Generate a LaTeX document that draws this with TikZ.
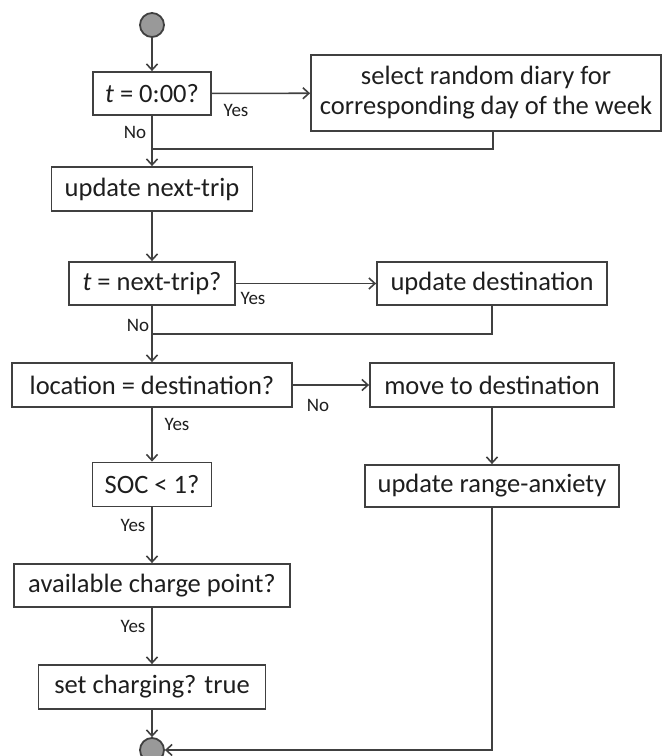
\documentclass[tikz,border=0pt]{standalone}
\usepackage{fontspec}
\setmainfont{Carlito}
\usetikzlibrary{arrows.meta}
\definecolor{ln}{HTML}{404040}
\definecolor{txt}{HTML}{1E1E1E}
\begin{document}
\begin{tikzpicture}[x=1pt,y=1pt,
  box/.style={draw=ln,line width=1.8pt,rectangle,inner sep=0pt,align=center,
    font=\fontsize{26.5}{30}\selectfont,text=txt},
  term/.style={draw=ln,line width=1.8pt,circle,fill=black!40,minimum size=24pt,inner sep=0pt},
  lbl/.style={font=\fontsize{19}{21}\selectfont,text=txt},
  conn/.style={draw=ln,line width=1.6pt},
  arr/.style={conn,-{Straight Barb[length=6pt,width=11pt,line width=1.6pt]}}]
\useasboundingbox (0,0) rectangle (662,-756);
\node[term] (start) at (152,-25) {};
\node[box,minimum width=118pt,minimum height=43pt] (t0) at (152,-93.5) {\textit{t} = 0:00?};
\node[box,minimum width=350pt,minimum height=76pt] (diary) at (486,-93) {select random diary for\\corresponding day of the week};
\node[box,minimum width=201pt,minimum height=44pt] (nexttrip) at (152,-189) {update next-trip};
\node[box,minimum width=166pt,minimum height=43pt] (tnext) at (152,-283.5) {\textit{t} = next-trip?};
\node[box,minimum width=230pt,minimum height=43pt] (upddest) at (492,-283.5) {update destination};
\node[box,minimum width=280pt,minimum height=44pt] (loc) at (152,-385) {location = destination?};
\node[box,minimum width=244pt,minimum height=44pt] (move) at (492,-385) {move to destination};
\node[box,minimum width=119pt,minimum height=44pt] (soc) at (152,-484.5) {SOC < 1?};
\node[box,minimum width=254pt,minimum height=42pt] (range) at (492,-486) {update range-anxiety};
\node[box,minimum width=276pt,minimum height=43pt] (avail) at (152,-585.5) {available charge point?};
\node[box,minimum width=227pt,minimum height=44pt] (setch) at (152,-687) {set charging? true};
\node[term] (end) at (152,-750) {};
\coordinate (m1) at (152,-149);
\coordinate (m2) at (152,-334);
\coordinate (d1) at (493,-131);
\draw[arr] (start) -- (t0);
\draw[arr] (t0) -- (diary);
\draw[arr] (t0) -- (nexttrip);
\draw[conn] (d1) |- (m1);
\draw[arr] (nexttrip) -- (tnext);
\draw[arr] (tnext) -- (upddest);
\draw[arr] (tnext) -- (loc);
\draw[conn] (upddest.south) |- (m2);
\draw[arr] (loc) -- (move);
\draw[arr] (loc) -- (soc);
\draw[arr] (move) -- (range);
\draw[arr] (soc) -- (avail);
\draw[arr] (avail) -- (setch);
\draw[arr] (setch) -- (end);
\draw[arr] (range.south) |- (end.east);
\node[lbl] (l1) at (236,-110) {Yes};
\node[lbl] (l2) at (135,-132) {No};
\node[lbl] (l3) at (253,-298) {Yes};
\node[lbl] (l4) at (138,-325) {No};
\node[lbl] (l5) at (318,-405) {No};
\node[lbl] (l6) at (177,-424) {Yes};
\node[lbl] (l7) at (133,-525) {Yes};
\node[lbl] (l8) at (133,-626) {Yes};
\end{tikzpicture}
\end{document}
